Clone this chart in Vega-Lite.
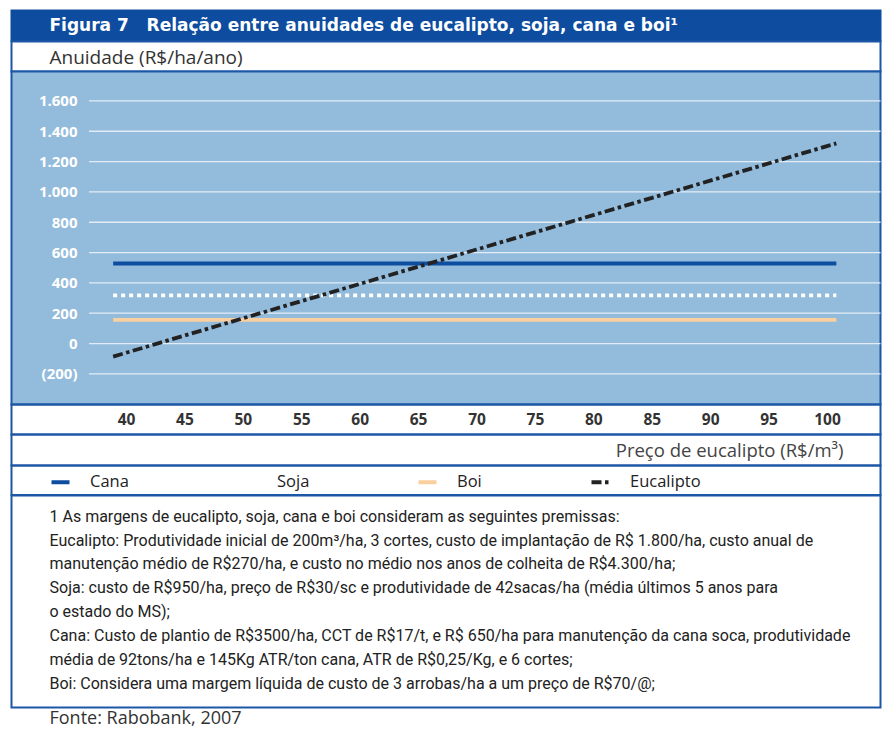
{
  "$schema": "https://vega.github.io/schema/vega-lite/v6.json",
  "background": "white",
  "padding": {"left": 10.5, "top": 9.5, "right": 1.5, "bottom": 0},
  "bounds": "flush",
  "spacing": 0,
  "config": {
    "view": {"stroke": "#1c57a5", "strokeWidth": 2},
    "font": "Open Sans",
    "axis": {"labelOverlap": false},
    "axisY": {"labelOverlap": false}
  },
  "datasets": {
    "series": [
      {"serie": "Cana", "preco": 38.9, "anuidade": 528},
      {"serie": "Cana", "preco": 100.8, "anuidade": 528},
      {"serie": "Soja", "preco": 38.9, "anuidade": 318},
      {"serie": "Soja", "preco": 100.8, "anuidade": 318},
      {"serie": "Boi", "preco": 38.9, "anuidade": 156},
      {"serie": "Boi", "preco": 100.8, "anuidade": 156},
      {"serie": "Eucalipto", "preco": 38.9, "anuidade": -86},
      {"serie": "Eucalipto", "preco": 40, "anuidade": -61},
      {"serie": "Eucalipto", "preco": 50, "anuidade": 166},
      {"serie": "Eucalipto", "preco": 60, "anuidade": 393},
      {"serie": "Eucalipto", "preco": 70, "anuidade": 620},
      {"serie": "Eucalipto", "preco": 80, "anuidade": 847},
      {"serie": "Eucalipto", "preco": 90, "anuidade": 1074},
      {"serie": "Eucalipto", "preco": 100, "anuidade": 1302},
      {"serie": "Eucalipto", "preco": 100.8, "anuidade": 1320}
    ],
    "grid": [
      {"v": -200}, {"v": 0}, {"v": 200}, {"v": 400}, {"v": 600},
      {"v": 800}, {"v": 1000}, {"v": 1200}, {"v": 1400}, {"v": 1600}
    ]
  },
  "vconcat": [
    {
      "width": 869,
      "height": 30.5,
      "view": {"fill": "#0d4c9f", "stroke": "#0d4c9f", "strokeWidth": 2},
      "title": {
        "text": "Figura 7\u00a0\u00a0 Relação entre anuidades de eucalipto, soja, cana e boi¹",
        "anchor": "start", "frame": "group", "orient": "top",
        "offset": -32, "dx": 38, "baseline": "middle",
        "color": "#ffffff", "font": "DejaVu Sans", "fontSize": 17, "fontWeight": "bold"
      },
      "data": {"values": []},
      "mark": "point"
    },
    {
      "width": 869,
      "height": 30,
      "view": {"stroke": "#1c57a5", "strokeWidth": 2},
      "title": {
        "text": "Anuidade (R$/ha/ano)",
        "anchor": "start", "frame": "group", "orient": "top",
        "offset": -35, "dx": 38, "baseline": "middle",
        "color": "#333333", "font": "Open Sans", "fontSize": 19, "fontWeight": "normal"
      },
      "data": {"values": []},
      "mark": "point"
    },
    {
      "width": 869,
      "height": 333,
      "view": {"fill": "#93bbdb", "stroke": "#1c57a5", "strokeWidth": 2},
      "layer": [
        {
          "data": {"name": "grid"},
          "mark": {"type": "rule", "color": "#e3ecf5", "strokeWidth": 1.3},
          "encoding": {
            "y": {
              "field": "v", "type": "quantitative",
              "scale": {"domain": [-402, 1794], "nice": false, "zero": false},
              "axis": {
                "orient": "left", "offset": -65.5,
                "values": [-200, 0, 200, 400, 600, 800, 1000, 1200, 1400, 1600],
                "domain": false, "ticks": false, "grid": false, "labelPadding": 0,
                "labelOverlap": false, "labelSeparation": 0,
                "labelExpr": "datum.value < 0 ? '(' + replace(format(-datum.value, ','), ',', '.') + ')' : replace(format(datum.value, ','), ',', '.')",
                "labelColor": "#ffffff", "labelFont": "Open Sans", "labelFontWeight": "bold",
                "labelFontSize": 15, "title": null
              }
            },
            "x": {"datum": 36.83},
            "x2": {"datum": 104.58}
          }
        },
        {
          "data": {"name": "series"},
          "mark": {"type": "line", "strokeWidth": 3.8, "strokeCap": "butt"},
          "encoding": {
            "x": {
              "field": "preco", "type": "quantitative",
              "scale": {"domain": [30.2, 104.58], "nice": false, "zero": false},
              "axis": {
                "orient": "bottom", "values": [40, 45, 50, 55, 60, 65, 70, 75, 80, 85, 90, 95, 100],
                "domain": false, "ticks": false, "grid": false, "labelOverlap": false,
                "labelPadding": 8, "labelFont": "Open Sans", "labelFontWeight": "bold",
                "labelFontSize": 15.5, "labelColor": "#333333",
                "title": "Preço de eucalipto (R$/m³)",
                "titleX": 831.5, "titleY": 46, "titleAlign": "right", "titleBaseline": "middle",
                "titleFont": "Open Sans", "titleFontWeight": "normal", "titleFontSize": 18.5,
                "titleColor": "#444444"
              }
            },
            "y": {
              "field": "anuidade", "type": "quantitative",
              "scale": {"domain": [-402, 1794], "nice": false, "zero": false},
              "axis": {
                "orient": "left", "offset": -65.5,
                "values": [-200, 0, 200, 400, 600, 800, 1000, 1200, 1400, 1600],
                "domain": false, "ticks": false, "grid": false, "labelPadding": 0,
                "labelOverlap": false, "labelSeparation": 0,
                "labelExpr": "datum.value < 0 ? '(' + replace(format(-datum.value, ','), ',', '.') + ')' : replace(format(datum.value, ','), ',', '.')",
                "labelColor": "#ffffff", "labelFont": "Open Sans", "labelFontWeight": "bold",
                "labelFontSize": 15, "title": null
              }
            },
            "color": {
              "field": "serie", "type": "nominal",
              "scale": {
                "domain": ["Cana", "Soja", "Boi", "Eucalipto"],
                "range": ["#0d4ea0", "#ffffff", "#f9cf9f", "#222222"]
              },
              "legend": {
                "title": null, "orient": "none", "direction": "horizontal",
                "legendX": 38, "legendY": 460.5,
                "labelFont": "Open Sans", "labelFontSize": 16.5, "labelColor": "#222222",
                "labelOffset": 18.5, "columnPadding": 101, "symbolSize": 324,
                "symbolStrokeWidth": 4
              }
            },
            "strokeDash": {
              "field": "serie", "type": "nominal",
              "scale": {
                "domain": ["Cana", "Soja", "Boi", "Eucalipto"],
                "range": [[1, 0], [4, 4], [1, 0], [10, 3.5, 3.5, 3.5]]
              },
              "legend": null
            }
          }
        }
      ]
    },
    {
      "width": 869,
      "height": 30,
      "view": {"stroke": "#1c57a5", "strokeWidth": 2},
      "data": {"values": []},
      "mark": "point"
    },
    {
      "width": 869,
      "height": 31,
      "view": {"stroke": "#1c57a5", "strokeWidth": 2},
      "data": {"values": []},
      "mark": "point"
    },
    {
      "width": 869,
      "height": 29.5,
      "view": {"stroke": "#1c57a5", "strokeWidth": 2},
      "data": {"values": []},
      "mark": "point"
    },
    {
      "width": 869,
      "height": 212,
      "view": {"stroke": "#1c57a5", "strokeWidth": 2},
      "title": {
        "text": [
          "1 As margens de eucalipto, soja, cana e boi consideram as seguintes premissas:",
          "Eucalipto: Produtividade inicial de 200m³/ha, 3 cortes, custo de implantação de R$ 1.800/ha, custo anual de",
          "manutenção médio de R$270/ha, e custo no médio nos anos de colheita de R$4.300/ha;",
          "Soja: custo de R$950/ha, preço de R$30/sc e produtividade de 42sacas/ha (média últimos 5 anos para",
          "o estado do MS);",
          "Cana: Custo de plantio de R$3500/ha, CCT de R$17/t, e R$ 650/ha para manutenção da cana soca, produtividade",
          "média de 92tons/ha e 145Kg ATR/ton cana, ATR de R$0,25/Kg, e 6 cortes;",
          "Boi: Considera uma margem líquida de custo de 3 arrobas/ha a um preço de R$70/@;"
        ],
        "anchor": "start", "frame": "group", "orient": "top",
        "offset": -196.5, "dx": 38, "baseline": "top", "lineHeight": 23.9,
        "color": "#222222", "font": "Roboto", "fontSize": 16, "fontWeight": "normal"
      },
      "data": {"values": []},
      "mark": "point"
    },
    {
      "width": 869,
      "height": 22.5,
      "view": {"stroke": "transparent"},
      "title": {
        "text": "Fonte: Rabobank, 2007",
        "anchor": "start", "frame": "group", "orient": "top",
        "offset": -29.5, "dx": 38, "baseline": "middle",
        "color": "#333333", "font": "Open Sans", "fontSize": 18, "fontWeight": "normal"
      },
      "data": {"values": []},
      "mark": "point"
    }
  ]
}
